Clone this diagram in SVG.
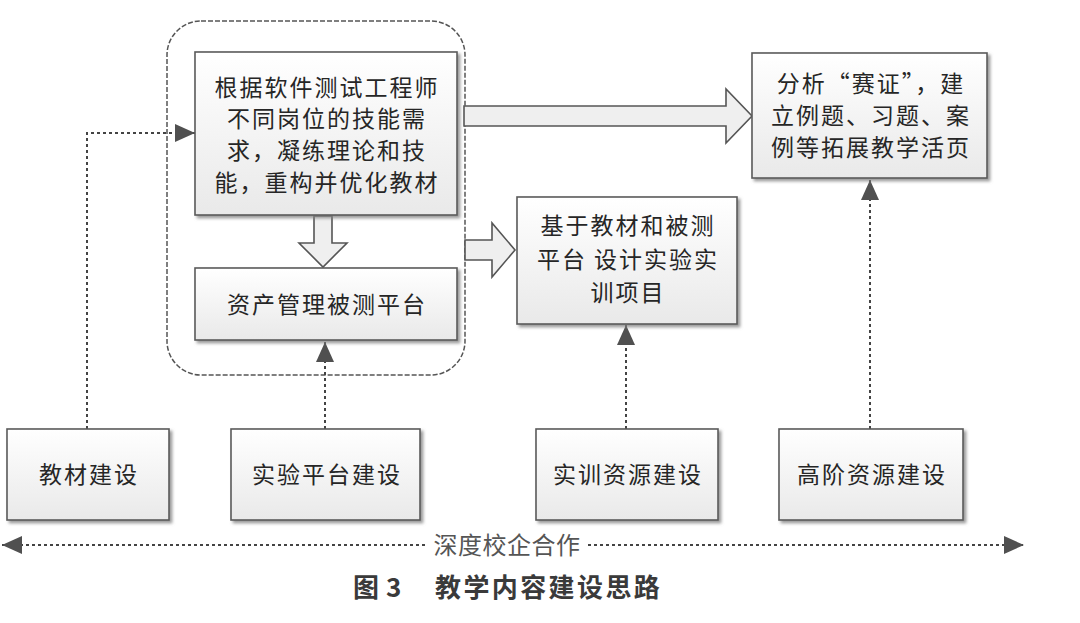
<svg xmlns="http://www.w3.org/2000/svg" width="1080" height="623" viewBox="0 0 1080 623">
<defs>
<linearGradient id="bg" x1="0" y1="0" x2="0" y2="1">
<stop offset="0" stop-color="#ffffff"/>
<stop offset="1" stop-color="#e9e9e9"/>
</linearGradient>
<filter id="sh" x="-5%" y="-5%" width="115%" height="120%">
<feDropShadow dx="2.5" dy="2.5" stdDeviation="1.5" flood-color="#808080" flood-opacity="0.8"/>
</filter>
<marker id="ah" viewBox="0 0 20 18" refX="20" refY="9" markerWidth="20" markerHeight="18" markerUnits="userSpaceOnUse" orient="auto-start-reverse">
<path d="M0,0 L20,9 L0,18 z" fill="#505050"/>
</marker>
<style>
.box{fill:url(#bg);stroke:#5a5a5a;stroke-width:1.6;filter:url(#sh)}
.t{font-family:"Noto Sans CJK SC","Noto Sans CJK TC",sans-serif;font-size:23px;letter-spacing:2px;fill:#262626;text-anchor:middle}
.blk{fill:#efefef;stroke:#555;stroke-width:1.6;stroke-linejoin:miter}
.dot{fill:none;stroke:#444;stroke-width:2;stroke-dasharray:3 3}
.lbl{font-family:"Noto Sans CJK SC",sans-serif;font-size:24px;letter-spacing:0.5px;fill:#555;text-anchor:middle}
.cap{font-family:"Noto Sans CJK SC",sans-serif;font-size:26px;font-weight:bold;fill:#3a3a3a}
</style>
</defs>
<rect width="1080" height="623" fill="#ffffff"/>

<g id="container">
<rect x="167" y="21" width="298" height="354" rx="34" fill="none" stroke="#555" stroke-width="1.5" stroke-dasharray="5 2"/>
</g>

<g id="connectors">
<polygon class="blk" points="464,106 726,106 726,89 752,116 726,143 726,126 464,126"/>
<polygon class="blk" points="465,240 492,240 492,223 515,250 492,277 492,260 465,260"/>
<polygon class="blk" points="314,216 332,216 332,243 347,243 323,267 299,243 314,243"/>
<path class="dot" d="M87,429 V133 H195" marker-end="url(#ah)"/>
<path class="dot" d="M325,429 V342" marker-end="url(#ah)"/>
<path class="dot" d="M626,429 V325" marker-end="url(#ah)"/>
<path class="dot" d="M870,429 V180" marker-end="url(#ah)"/>
<path class="dot" d="M2,545 H428" marker-start="url(#ah)"/>
<path class="dot" d="M588,545 H1024" marker-end="url(#ah)"/>
</g>

<g id="n-textbook-rebuild">
<rect class="box" x="195" y="52" width="262" height="163"/>
<text class="t" x="327" y="96">根据软件测试工程师</text>
<text class="t" x="327" y="127">不同岗位的技能需</text>
<text class="t" x="327" y="159">求，凝练理论和技</text>
<text class="t" x="327" y="191">能，重构并优化教材</text>
</g>

<g id="n-platform">
<rect class="box" x="195" y="268" width="262" height="72"/>
<text class="t" x="327" y="313">资产管理被测平台</text>
</g>

<g id="n-training-project">
<rect class="box" x="517" y="197" width="220" height="127"/>
<text class="t" x="628" y="234">基于教材和被测</text>
<text class="t" x="628" y="268">平台 设计实验实</text>
<text class="t" x="628" y="301">训项目</text>
</g>

<g id="n-extension">
<rect class="box" x="752" y="53" width="235" height="125"/>
<text class="t" x="871" y="92">分析“赛证”，建</text>
<text class="t" x="871" y="124">立例题、习题、案</text>
<text class="t" x="871" y="156">例等拓展教学活页</text>
</g>

<g id="n-jiaocai">
<rect class="box" x="7" y="429" width="162" height="91"/>
<text class="t" x="89" y="483">教材建设</text>
</g>

<g id="n-shiyan">
<rect class="box" x="231" y="429" width="189" height="91"/>
<text class="t" x="327" y="483">实验平台建设</text>
</g>

<g id="n-shixun">
<rect class="box" x="536" y="429" width="182" height="91"/>
<text class="t" x="628" y="483">实训资源建设</text>
</g>

<g id="n-gaojie">
<rect class="box" x="779" y="429" width="184" height="91"/>
<text class="t" x="872" y="483">高阶资源建设</text>
</g>

<g id="label-coop">
<text class="lbl" x="507" y="554">深度校企合作</text>
</g>

<g id="caption">
<text class="cap" x="353" y="597">图</text>
<text class="cap" x="386" y="597">3</text>
<text class="cap" x="435" y="597" letter-spacing="2.4">教学内容建设思路</text>
</g>
</svg>
